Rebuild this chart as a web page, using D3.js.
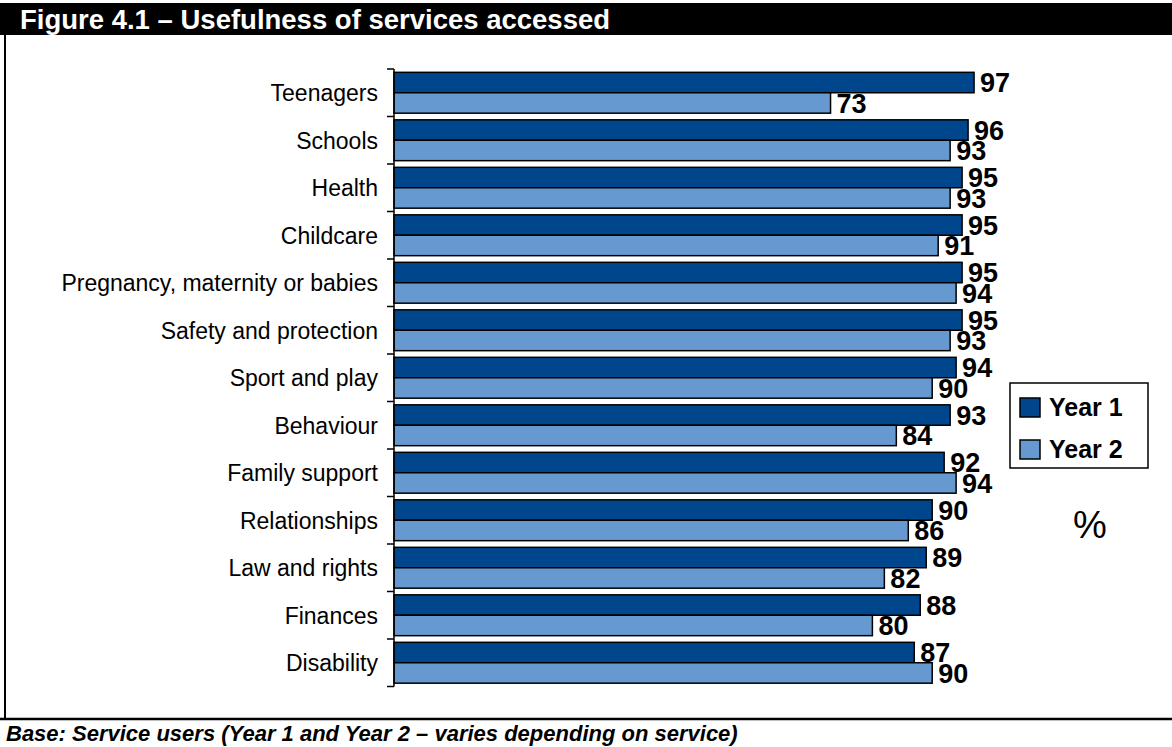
<!DOCTYPE html>
<html><head><meta charset="utf-8">
<script src="https://cdn.jsdelivr.net/npm/d3@7"></script>
<style>body{margin:0;background:#fff}svg{display:block}</style>
</head><body>
<svg id="c" width="1172" height="747"></svg>
<script>
const categories = ["Teenagers","Schools","Health","Childcare","Pregnancy, maternity or babies","Safety and protection","Sport and play","Behaviour","Family support","Relationships","Law and rights","Finances","Disability"];
const year1 = [97,96,95,95,95,95,94,93,92,90,89,88,87];
const year2 = [73,93,93,91,94,93,90,84,94,86,82,80,90];
const seriesNames = ["Year 1","Year 2"];
const colors = ["#00468c","#6699d0"];

const svg = d3.select("#c");
const W = 1172, H = 747;
const font = "'Liberation Sans', Arial, sans-serif";

// frame
svg.append("rect").attr("x",0).attr("y",3).attr("width",W).attr("height",32).attr("fill","#000");
svg.append("text").attr("x",20).attr("y",29).attr("fill","#fff").attr("font-family",font)
  .attr("font-weight","bold").attr("font-size",27.5).text("Figure 4.1 – Usefulness of services accessed");
svg.append("line").attr("x1",5).attr("x2",5).attr("y1",35).attr("y2",719).attr("stroke","#000").attr("stroke-width",2);
svg.append("line").attr("x1",0).attr("x2",W).attr("y1",719).attr("y2",719).attr("stroke","#000").attr("stroke-width",2.5);
svg.append("text").attr("x",6).attr("y",741).attr("font-family",font).attr("font-weight","bold")
  .attr("font-style","italic").attr("font-size",22).text("Base: Service users (Year 1 and Year 2 – varies depending on service)");

const x = d3.scaleLinear().domain([0,100]).range([394, 992]);
const y0 = d3.scaleBand().domain(categories).range([69, 686.5]).paddingInner(0.14).paddingOuter(0.07);
const y1 = d3.scaleBand().domain(seriesNames).range([0, y0.bandwidth()]);

const data = categories.map((c,i)=>({cat:c, vals:[year1[i], year2[i]]}));

const g = svg.append("g");
const groups = g.selectAll("g.cat").data(data).join("g").attr("class","cat")
  .attr("transform", d=>`translate(0,${y0(d.cat)})`);
groups.selectAll("rect").data(d=>d.vals.map((v,k)=>({v,k}))).join("rect")
  .attr("x", x(0)).attr("y", d=>y1(seriesNames[d.k]))
  .attr("width", d=>x(d.v)-x(0)).attr("height", y1.bandwidth())
  .attr("fill", d=>colors[d.k]).attr("stroke","#000").attr("stroke-width",1.5);
groups.selectAll("text.val").data(d=>d.vals.map((v,k)=>({v,k}))).join("text").attr("class","val")
  .attr("x", d=>x(d.v)+6).attr("y", d=>y1(seriesNames[d.k])+y1.bandwidth()/2)
  .attr("dy","0.36em").attr("font-family",font).attr("font-weight","bold").attr("font-size",27)
  .text(d=>d.v);

// axis
const step = y0.step();
const tickYs = d3.range(categories.length+1).map(i=>69 + i*step);
g.append("line").attr("x1",x(0)).attr("x2",x(0)).attr("y1",69).attr("y2",686.5).attr("stroke","#000").attr("stroke-width",1.5);
g.selectAll("line.tick").data(tickYs).join("line").attr("class","tick")
  .attr("x1",387).attr("x2",x(0)).attr("y1",d=>d).attr("y2",d=>d).attr("stroke","#000").attr("stroke-width",1.5);
g.selectAll("text.lab").data(categories).join("text").attr("class","lab")
  .attr("x",378).attr("y",d=>y0(d)+y0.bandwidth()/2).attr("dy","0.36em").attr("text-anchor","end")
  .attr("font-family",font).attr("font-size",23).text(d=>d);

// legend
const lg = svg.append("g");
lg.append("rect").attr("x",1010).attr("y",383).attr("width",138).attr("height",85).attr("fill","#fff").attr("stroke","#000").attr("stroke-width",1.5);
seriesNames.forEach((s,i)=>{
  const yy = 398 + i*42;
  lg.append("rect").attr("x",1020).attr("y",yy).attr("width",20).attr("height",19).attr("fill",colors[i]).attr("stroke","#000").attr("stroke-width",1.5);
  lg.append("text").attr("x",1049).attr("y",yy+18).attr("font-family",font).attr("font-weight","bold").attr("font-size",25).text(s);
});
svg.append("text").attr("x",1073).attr("y",538).attr("font-family",font).attr("font-size",38).text("%");
</script>
</body></html>
